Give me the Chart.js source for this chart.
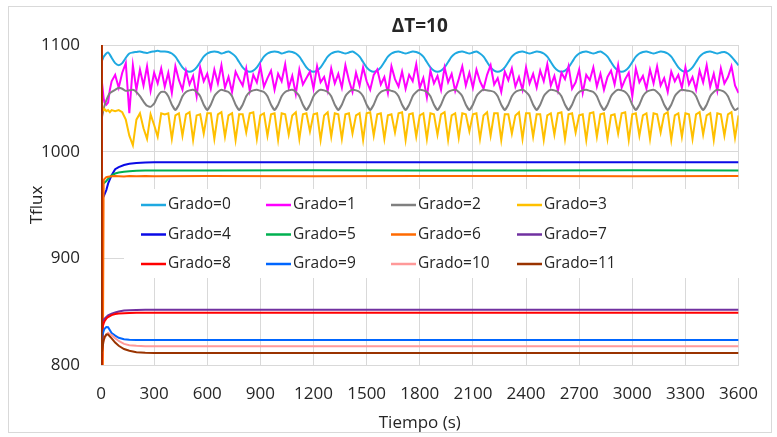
<!DOCTYPE html>
<html>
<head>
<meta charset="utf-8">
<script src="https://cdn.jsdelivr.net/npm/chart.js@4"></script>
<style>
  html, body { margin: 0; padding: 0; background: #fff; }
  #wrap { position: relative; width: 777px; height: 437px; }
  #frame { position: absolute; left: 8px; top: 6px; width: 762px; height: 425px; border: 1px solid #d9d9d9; pointer-events: none; }
  canvas { position: absolute; left: 0; top: 0; }
</style>
</head>
<body>
<div id="wrap">
  <canvas id="fluxChart" width="777" height="437"></canvas>
  <div id="frame"></div>
</div>
<script>
// Sample times (s) for the oscillating series
const timeOsc = [0, 2, 5, 10, 15, 20, 30, 40, 50,
  60, 80, 100, 120, 140, 160, 180, 200, 220, 240, 260, 280, 300, 320, 340,
  360, 380, 400, 420, 440, 460, 480, 500, 520, 540, 560, 580, 600, 620, 640,
  660, 680, 700, 720, 740, 760, 780, 800, 820, 840, 860, 880, 900, 920, 940,
  960, 980, 1000, 1020, 1040, 1060, 1080, 1100, 1120, 1140, 1160, 1180, 1200, 1220, 1240,
  1260, 1280, 1300, 1320, 1340, 1360, 1380, 1400, 1420, 1440, 1460, 1480, 1500, 1520, 1540,
  1560, 1580, 1600, 1620, 1640, 1660, 1680, 1700, 1720, 1740, 1760, 1780, 1800, 1820, 1840,
  1860, 1880, 1900, 1920, 1940, 1960, 1980, 2000, 2020, 2040, 2060, 2080, 2100, 2120, 2140,
  2160, 2180, 2200, 2220, 2240, 2260, 2280, 2300, 2320, 2340, 2360, 2380, 2400, 2420, 2440,
  2460, 2480, 2500, 2520, 2540, 2560, 2580, 2600, 2620, 2640, 2660, 2680, 2700, 2720, 2740,
  2760, 2780, 2800, 2820, 2840, 2860, 2880, 2900, 2920, 2940, 2960, 2980, 3000, 3020, 3040,
  3060, 3080, 3100, 3120, 3140, 3160, 3180, 3200, 3220, 3240, 3260, 3280, 3300, 3320, 3340,
  3360, 3380, 3400, 3420, 3440, 3460, 3480, 3500, 3520, 3540, 3560, 3580, 3600];

const grado0 = [1080, 1082, 1085, 1087, 1089, 1090, 1092, 1093, 1091,
  1088, 1083, 1081, 1083, 1088, 1092, 1093, 1093.5, 1094, 1093, 1092.5, 1093.5, 1094, 1094.5, 1094,
  1094, 1093.5, 1092, 1089, 1084, 1079, 1076, 1075, 1076, 1079, 1084, 1089, 1092, 1093.5, 1094,
  1093.5, 1092, 1093, 1094, 1092, 1089, 1084, 1079, 1076, 1075, 1076, 1079, 1084, 1089, 1092,
  1093.5, 1094, 1093.5, 1092, 1093, 1094, 1093.5, 1092, 1089, 1084, 1079, 1076, 1075, 1076, 1079,
  1084, 1089, 1092, 1093.5, 1094, 1093, 1092, 1093, 1094, 1092, 1089, 1084, 1079, 1076, 1075,
  1076, 1079, 1084, 1089, 1092, 1093.5, 1094, 1093, 1092, 1093, 1094, 1093.5, 1092, 1089, 1084,
  1079, 1076, 1075, 1076, 1079, 1084, 1089, 1092, 1093.5, 1094, 1093, 1092, 1093, 1094, 1092,
  1089, 1084, 1079, 1076, 1075, 1076, 1079, 1084, 1089, 1092, 1093.5, 1094, 1093, 1092, 1093,
  1094, 1093.5, 1092, 1089, 1084, 1079, 1076, 1075, 1076, 1079, 1084, 1089, 1092, 1093.5, 1094,
  1093, 1092, 1093, 1094, 1092, 1089, 1084, 1079, 1076, 1075, 1076, 1079, 1084, 1089, 1092,
  1093.5, 1094, 1093, 1092, 1093, 1094, 1093.5, 1092, 1089, 1084, 1079, 1076, 1075, 1076, 1079,
  1084, 1089, 1092, 1093.5, 1094, 1093, 1092, 1093, 1093.5, 1092, 1089, 1085, 1081];

const grado1 = [1085, 1080, 1068, 1058, 1050, 1046, 1044, 1046, 1058,
  1066, 1072, 1060, 1074, 1083, 1036, 1081, 1058, 1077, 1062, 1080, 1057, 1074, 1064, 1078,
  1061, 1074, 1055, 1080, 1067, 1058, 1076, 1063, 1071, 1052, 1079, 1066, 1073, 1059, 1077,
  1064, 1081, 1060, 1070, 1056, 1075, 1068, 1062, 1078, 1057, 1072, 1065, 1080, 1061, 1069,
  1076, 1058, 1073, 1066, 1082, 1060, 1071, 1054, 1077, 1063, 1069, 1075, 1059, 1080, 1065,
  1070, 1057, 1078, 1064, 1073, 1060, 1081, 1067, 1056, 1074, 1062, 1079, 1066, 1058, 1072,
  1077, 1063, 1070, 1055, 1080, 1068, 1061, 1075, 1059, 1072, 1066, 1082, 1060, 1069, 1051,
  1076, 1064, 1071, 1058, 1079, 1065, 1073, 1057, 1068, 1080, 1062, 1074, 1060, 1077, 1066,
  1059, 1072, 1081, 1063, 1069, 1056, 1075, 1067, 1078, 1061, 1070, 1058, 1079, 1064, 1073,
  1060, 1076, 1066, 1082, 1062, 1071, 1057, 1074, 1068, 1080, 1059, 1065, 1077, 1055, 1072,
  1067, 1079, 1061, 1073, 1058, 1070, 1076, 1063, 1081, 1060, 1068, 1074, 1052, 1078, 1065,
  1071, 1059, 1077, 1064, 1080, 1062, 1069, 1056, 1075, 1066, 1072, 1060, 1079, 1063, 1070,
  1058, 1076, 1065, 1081, 1061, 1073, 1057, 1078, 1064, 1070, 1080, 1062, 1055];

const grado2 = [1030, 1030, 1032, 1036, 1040, 1043, 1048, 1052, 1055,
  1056, 1058, 1060, 1059, 1057, 1057.5, 1058, 1056, 1052, 1047, 1043, 1042, 1045, 1052, 1056,
  1056, 1052, 1044, 1039, 1044, 1052, 1056, 1057.5, 1058, 1056, 1052, 1044, 1039, 1044, 1052,
  1056, 1058, 1057, 1056, 1052, 1044, 1039, 1044, 1052, 1056, 1057.5, 1058, 1057, 1056, 1052,
  1044, 1039, 1044, 1052, 1056, 1057.5, 1058, 1056, 1052, 1044, 1039, 1044, 1052, 1056, 1058,
  1057.5, 1056, 1052, 1044, 1039, 1044, 1052, 1056, 1058, 1057.5, 1056, 1052, 1044, 1039, 1044,
  1052, 1056, 1057.5, 1058, 1057, 1056, 1052, 1044, 1039, 1044, 1052, 1056, 1058, 1057.5, 1056,
  1052, 1044, 1039, 1044, 1052, 1056, 1057.5, 1058, 1056, 1052, 1044, 1039, 1044, 1052, 1056,
  1058, 1057.5, 1057, 1056, 1052, 1044, 1039, 1044, 1052, 1056, 1057.5, 1058, 1056, 1052, 1044,
  1039, 1044, 1052, 1056, 1058, 1057.5, 1056, 1052, 1044, 1039, 1044, 1052, 1056, 1057.5, 1058,
  1057, 1056, 1052, 1044, 1039, 1044, 1052, 1056, 1058, 1057.5, 1056, 1052, 1044, 1039, 1044,
  1052, 1056, 1057.5, 1058, 1056, 1052, 1044, 1039, 1044, 1052, 1056, 1058, 1057.5, 1057, 1056,
  1052, 1044, 1039, 1044, 1052, 1056, 1058, 1057.5, 1056, 1052, 1044, 1039, 1041];

const grado3 = [1120, 1070, 1045, 1040, 1039, 1040, 1038, 1039, 1037,
  1039, 1038, 1039, 1037, 1030, 1015, 1006, 1030, 1036, 1022, 1012, 1035, 1025, 1014, 1036,
  1035, 1036, 1012, 1034, 1036, 1015, 1035, 1037, 1011, 1034, 1035, 1017, 1036, 1036, 1012,
  1035, 1037, 1014, 1034, 1036, 1011, 1035, 1035, 1018, 1036, 1037, 1012, 1034, 1036, 1015,
  1035, 1036, 1011, 1036, 1035, 1016, 1034, 1037, 1012, 1035, 1036, 1019, 1035, 1036, 1011,
  1034, 1037, 1014, 1036, 1035, 1012, 1035, 1036, 1017, 1034, 1036, 1011, 1036, 1037, 1015,
  1035, 1036, 1012, 1034, 1035, 1018, 1036, 1037, 1011, 1035, 1036, 1014, 1034, 1036, 1012,
  1036, 1035, 1016, 1035, 1037, 1011, 1034, 1036, 1013, 1036, 1035, 1019, 1035, 1036, 1012,
  1034, 1037, 1015, 1036, 1036, 1011, 1035, 1035, 1017, 1034, 1037, 1012, 1036, 1036, 1014,
  1035, 1035, 1011, 1034, 1036, 1016, 1036, 1037, 1012, 1035, 1036, 1018, 1034, 1035, 1011,
  1036, 1037, 1014, 1035, 1036, 1012, 1034, 1035, 1017, 1036, 1037, 1011, 1035, 1036, 1015,
  1034, 1036, 1012, 1036, 1035, 1018, 1035, 1037, 1011, 1034, 1036, 1014, 1036, 1035, 1012,
  1035, 1037, 1016, 1034, 1036, 1011, 1036, 1035, 1015, 1035, 1037, 1013, 1034];

// Sample times (s) for the series that settle to a steady value
const timeFlat = [0, 2, 5, 10, 15, 20, 30, 40, 60, 80, 100, 130, 160, 200, 250, 300, 600, 1200, 1800, 2400, 3000, 3600];

const grado4 = [950, 952, 955, 957, 958, 960, 964, 970, 978, 983.5, 985.5, 987.5, 988.7, 989.4, 989.8, 990, 990, 990, 990, 990, 990, 990];
const grado5 = [966, 967, 968, 969.5, 970.5, 971, 972.5, 974.5, 977.8, 979.5, 980.5, 981.2, 981.6, 982, 982.3, 982.4, 982.4, 982.5, 982.4, 982.4, 982.5, 982.4];
const grado6 = [1150, 1150, 1100, 780, 973, 974.5, 976, 976.5, 977, 977.2, 977, 976.8, 977.2, 977, 977.3, 976.9, 977.2, 976.9, 977.1, 977.3, 976.9, 977.1];
const grado7 = [836, 837, 839, 841, 842.5, 843.5, 845, 846.5, 848.2, 849.3, 850.2, 851, 851.4, 851.6, 851.7, 851.7, 851.7, 851.7, 851.7, 851.7, 851.7, 851.7];
const grado8 = [1200, 1150, 790, 836, 839, 841, 843.5, 845, 846.8, 847.8, 848.3, 848.6, 848.8, 848.9, 848.9, 848.9, 848.9, 848.9, 848.9, 848.9, 848.9, 848.9];
const grado9 = [818, 820, 824, 829, 832, 834, 835.6, 835.4, 830, 827.5, 825.5, 824.2, 823.6, 823.4, 823.4, 823.4, 823.4, 823.4, 823.4, 823.4, 823.4, 823.4];
const grado10 = [812, 814, 818, 821, 823, 825, 828.5, 830, 828, 825, 822.5, 819.8, 818.6, 818, 817.6, 817.5, 817.5, 817.5, 817.5, 817.5, 817.5, 817.5];
const grado11 = [1200, 790, 810, 818, 823, 826, 828.5, 828.5, 825, 821, 818, 815, 813.3, 812, 811.4, 811.3, 811.3, 811.3, 811.3, 811.3, 811.3, 811.3];

const seriesLabels = ['Grado=0', 'Grado=1', 'Grado=2', 'Grado=3', 'Grado=4', 'Grado=5',
  'Grado=6', 'Grado=7', 'Grado=8', 'Grado=9', 'Grado=10', 'Grado=11'];
const xTicks = [0, 300, 600, 900, 1200, 1500, 1800, 2100, 2400, 2700, 3000, 3300, 3600];
const yTicks = [800, 900, 1000, 1100];

const seriesColors = ['#1fa9e1', '#ff00ff', '#808080', '#ffc000', '#0a0ae6', '#00b050',
  '#ff6a00', '#7030a0', '#ff0000', '#0066ff', '#ff9999', '#993300'];
const seriesTension = [0.3, 0, 0.12, 0, 0, 0, 0, 0, 0, 0, 0, 0];

const FONT = '"Open Sans", "Noto Sans", sans-serif';
const TEXT = '#262626';

const seriesData = [
  [timeOsc, grado0], [timeOsc, grado1], [timeOsc, grado2], [timeOsc, grado3],
  [timeFlat, grado4], [timeFlat, grado5], [timeFlat, grado6], [timeFlat, grado7],
  [timeFlat, grado8], [timeFlat, grado9], [timeFlat, grado10], [timeFlat, grado11]
];

const datasets = seriesData.map(([t, v], i) => ({
  label: seriesLabels[i],
  data: t.map((x, k) => ({ x: x, y: v[k] })),
  borderColor: seriesColors[i],
  backgroundColor: seriesColors[i],
  borderWidth: 2,
  pointRadius: 0,
  tension: seriesTension[i],
  order: seriesLabels.length - i
}));

// Chart title centred over the plot area
const plotTitle = {
  id: 'plotTitle',
  afterDraw(chart) {
    const a = chart.chartArea;
    const ctx = chart.ctx;
    ctx.save();
    ctx.font = 'bold 19px ' + FONT;
    ctx.fillStyle = TEXT;
    ctx.textAlign = 'center';
    ctx.textBaseline = 'middle';
    ctx.fillText('\u0394T=10', (a.left + a.right) / 2, 27);
    ctx.restore();
  }
};

// Legend box drawn inside the plot, 4 columns x 3 rows
const innerLegend = {
  id: 'innerLegend',
  afterDatasetsDraw(chart) {
    const ctx = chart.ctx;
    const box = { x: 124, y: 189, w: 617, h: 89 };
    const colX = [141, 266, 391, 517];
    const rowY = [205, 234.5, 264];
    ctx.save();
    ctx.fillStyle = '#fff';
    ctx.fillRect(box.x, box.y, box.w, box.h);
    ctx.font = '15.5px ' + FONT;
    ctx.textBaseline = 'middle';
    ctx.textAlign = 'left';
    chart.data.datasets.forEach((ds, i) => {
      const x = colX[i % 4];
      const y = rowY[Math.floor(i / 4)];
      ctx.strokeStyle = ds.borderColor;
      ctx.lineWidth = 2.5;
      ctx.beginPath();
      ctx.moveTo(x, y);
      ctx.lineTo(x + 25, y);
      ctx.stroke();
      ctx.fillStyle = TEXT;
      ctx.fillText(ds.label, x + 27, y);
    });
    ctx.restore();
  }
};

new Chart(document.getElementById('fluxChart'), {
  type: 'line',
  data: { datasets: datasets },
  options: {
    responsive: false,
    animation: false,
    layout: { padding: { left: 27, right: 30, top: 45, bottom: 4 } },
    plugins: {
      legend: { display: false },
      tooltip: { enabled: false }
    },
    scales: {
      x: {
        type: 'linear',
        min: 0,
        max: 3600,
        afterBuildTicks: s => { s.ticks = xTicks.map(v => ({ value: v })); },
        afterFit: s => { s.height = 68; },
        ticks: { autoSkip: false, maxRotation: 0, padding: 19, color: TEXT, font: { family: FONT, size: 17 }, callback: v => String(v) },
        grid: { color: '#d9d9d9', drawTicks: false },
        border: { color: '#d9d9d9' },
        title: { display: true, text: 'Tiempo (s)', color: TEXT, font: { family: FONT, size: 17 }, padding: { top: 2, bottom: 0 } }
      },
      y: {
        min: 800,
        max: 1100,
        afterBuildTicks: s => { s.ticks = yTicks.map(v => ({ value: v })); },
        afterFit: s => { s.width = 74; },
        ticks: { padding: 21, color: TEXT, font: { family: FONT, size: 17 }, callback: v => String(v) },
        grid: { color: '#d9d9d9', drawTicks: false },
        border: { color: '#d9d9d9' },
        title: { display: true, text: 'Tflux', color: TEXT, font: { family: FONT, size: 17 }, padding: 0 }
      }
    }
  },
  plugins: [plotTitle, innerLegend]
});
</script>
</body>
</html>
